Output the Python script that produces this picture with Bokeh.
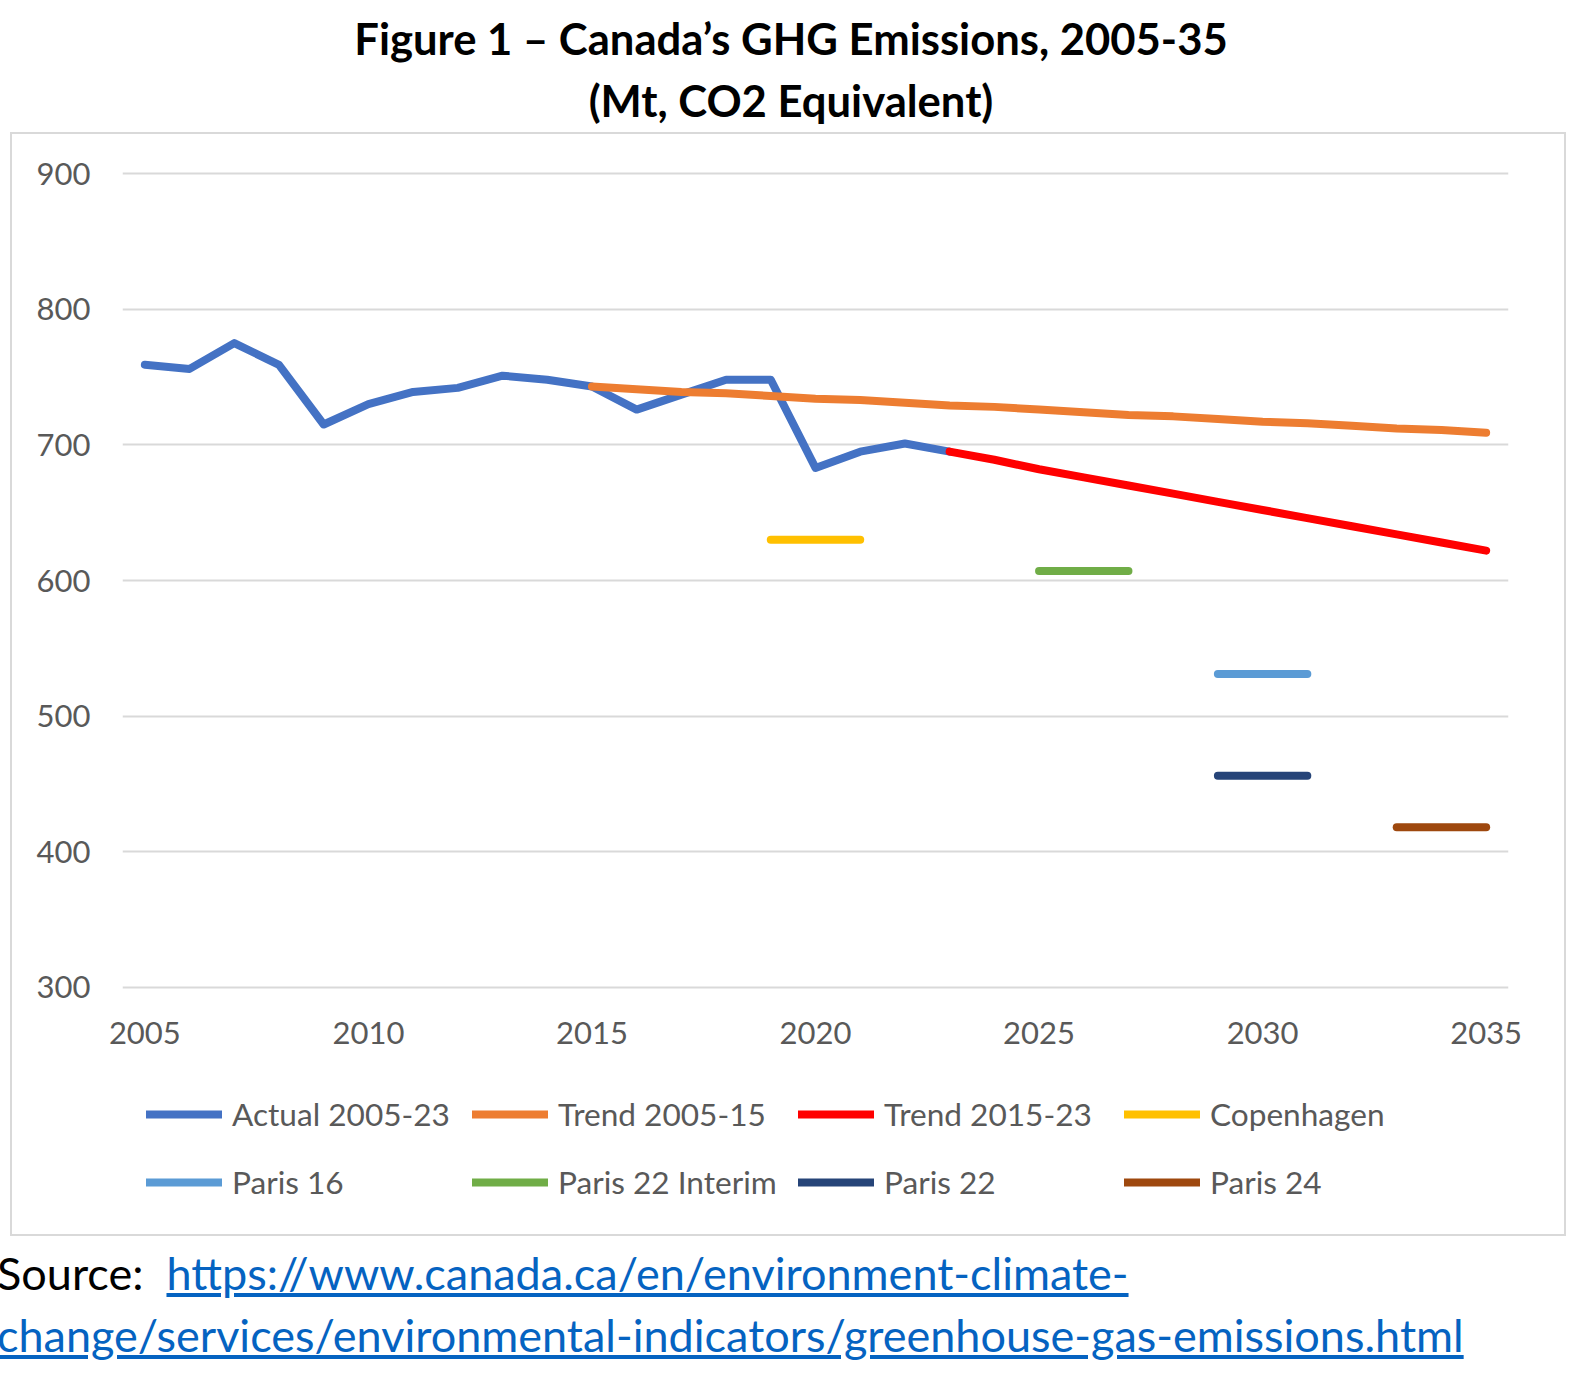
from bokeh.plotting import figure
from bokeh.models import Div, Legend, LegendItem, FixedTicker, Range1d
from bokeh.layouts import column
from bokeh.embed import file_html
from bokeh.resources import INLINE

# ---- data ----
actual_years = list(range(2005, 2024))
actual_vals = [759, 756, 775, 759, 715, 730, 739, 742, 751, 748, 743, 726, 737, 748, 748, 683, 695, 701, 695]

trend0515_years = list(range(2015, 2036))
trend0515_vals = [743, 741, 739, 738, 736, 734, 733, 731, 729, 728, 726, 724, 722, 721, 719, 717, 716, 714, 712, 711, 709]

trend1523_years = list(range(2023, 2036))
trend1523_vals = [695, 689, 682, 676, 670, 664, 658, 652, 646, 640, 634, 628, 622]

copenhagen_years = [2019, 2021]
copenhagen_vals = [630, 630]
paris16_years = [2029, 2031]
paris16_vals = [531, 531]
paris22i_years = [2025, 2027]
paris22i_vals = [607, 607]
paris22_years = [2029, 2031]
paris22_vals = [456, 456]
paris24_years = [2033, 2035]
paris24_vals = [418, 418]

x_ticks = [2005, 2010, 2015, 2020, 2025, 2030, 2035]
y_ticks = [300, 400, 500, 600, 700, 800, 900]

series_names = ["Actual 2005-23", "Trend 2005-15", "Trend 2015-23", "Copenhagen",
                "Paris 16", "Paris 22 Interim", "Paris 22", "Paris 24"]
series_x = [actual_years, trend0515_years, trend1523_years, copenhagen_years,
            paris16_years, paris22i_years, paris22_years, paris24_years]
series_y = [actual_vals, trend0515_vals, trend1523_vals, copenhagen_vals,
            paris16_vals, paris22i_vals, paris22_vals, paris24_vals]
series_colors = ["#4472C4", "#ED7D31", "#FF0000", "#FFC000",
                 "#5B9BD5", "#70AD47", "#264478", "#9E480E"]

FONT = "Lato"
GREY = "#595959"
LW = 8
W = 1552

# ---- main chart ----
p = figure(width=W, height=928, x_range=Range1d(2004.5, 2035.5), y_range=Range1d(297, 903),
           output_backend="svg", toolbar_location=None,
           min_border_left=110, min_border_right=56, min_border_top=35, min_border_bottom=71)
p.outline_line_color = None
p.background_fill_color = "white"
p.border_fill_color = "white"

p.xgrid.grid_line_color = None
p.ygrid.grid_line_color = "#d9d9d9"
p.ygrid.grid_line_width = 2

p.xaxis.ticker = FixedTicker(ticks=x_ticks)
p.yaxis.ticker = FixedTicker(ticks=y_ticks)
for ax in (p.xaxis[0], p.yaxis[0]):
    ax.axis_line_color = None
    ax.major_tick_line_color = None
    ax.minor_tick_line_color = None
    ax.major_label_text_font = FONT
    ax.major_label_text_font_size = "31px"
    ax.major_label_text_color = GREY
p.xaxis.major_label_standoff = 24
p.yaxis.major_label_standoff = 26

for xs, ys, col in zip(series_x, series_y, series_colors):
    p.line(xs, ys, line_color=col, line_width=LW, line_cap="round", line_join="round")

# ---- legend strip (inside the same bordered box) ----
# the series are re-plotted here only to give the legend its glyphs;
# the (0, 1) ranges keep them out of view
pl = figure(width=W, height=172, x_range=Range1d(0, 1), y_range=Range1d(0, 1),
            x_axis_type=None, y_axis_type=None, output_backend="svg", toolbar_location=None,
            min_border_left=110, min_border_right=56, min_border_top=0, min_border_bottom=0)
pl.outline_line_color = None
pl.background_fill_color = "white"
pl.border_fill_color = "white"

items = []
for name, xs, ys, col in zip(series_names, series_x, series_y, series_colors):
    r = pl.line(xs, ys, line_color=col, line_width=LW, line_cap="round")
    items.append(LegendItem(label=name, renderers=[r]))

legend = Legend(items=items, orientation="horizontal", ncols=4,
                location=(24, 18), glyph_width=76, glyph_height=68,
                label_standoff=10, label_width=240, spacing=0,
                padding=0, margin=0,
                label_text_font=FONT, label_text_font_size="31.6px", label_text_color=GREY,
                border_line_color=None, background_fill_alpha=0)
pl.add_layout(legend, "center")

box = column(p, pl, spacing=0)
box.styles = {"outline": "2px solid #d9d9d9"}
box.margin = (0, 0, 0, 12)

title_div = Div(width=1572, height=124, text=(
    '<div style="font-family:Lato;font-weight:bold;font-size:43.6px;line-height:62px;'
    'text-align:center;color:#000;width:1572px;margin-top:2px;">'
    'Figure 1 – Canada’s GHG Emissions, 2005-35<br>(Mt, CO2 Equivalent)</div>'))

src_div = Div(width=1560, height=135, text=(
    '<div style="font-family:Lato;font-size:45px;line-height:62px;color:#000;'
    'margin-left:-8px;padding-top:3px;white-space:nowrap;">'
    'Source:&nbsp; <a href="https://www.canada.ca/en/environment-climate-change/services/environmental-indicators/greenhouse-gas-emissions.html" '
    'style="color:#0563C1;text-decoration:underline;">https://www.canada.ca/en/environment-climate-<br>'
    'change/services/environmental-indicators/greenhouse-gas-emissions.html</a></div>'))

layout = column(title_div, box, src_div, spacing=0)
open("out.html", "w").write(file_html(layout, INLINE))
